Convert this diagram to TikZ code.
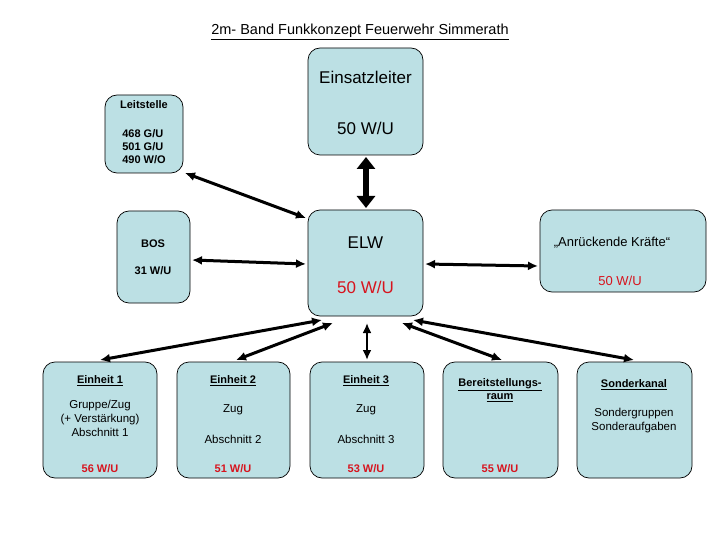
\documentclass[tikz,border=0pt]{standalone}
\usepackage{fontspec}
\setmainfont{Liberation Sans}
\usetikzlibrary{arrows.meta}
\definecolor{bx}{RGB}{188,224,228}
\definecolor{rd}{RGB}{215,20,30}
\begin{document}
\begin{tikzpicture}[x=1pt,y=-1pt,
 box/.style={draw=black,fill=bx,rounded corners=12pt,line width=0.7pt},
 ar/.style={line width=3pt,{Latex[length=10pt,width=9pt]}-{Latex[length=10pt,width=9pt]}},
 t/.style={font=\fontsize{13}{15}\selectfont,align=center,inner sep=0},
 s/.style={font=\fontsize{11.5}{14}\selectfont,align=center,inner sep=0},
 b/.style={font=\bfseries\fontsize{11}{13}\selectfont,align=center,inner sep=0}]
\useasboundingbox (0,0) rectangle (720,540);
\node[font=\fontsize{14.5}{16}\selectfont,inner sep=0] (title) at (360,32) {\underline{2m- Band Funkkonzept Feuerwehr Simmerath}};
\draw[box] (308,48) rectangle (423,155);
\node[font=\fontsize{17}{19}\selectfont,inner sep=0] (ezt) at (365.5,77) {Einsatzleiter};
\node[font=\fontsize{17}{19}\selectfont,inner sep=0] (ezn) at (365.5,128) {50 W/U};
\draw[box] (105,95) rectangle (183,173);
\node[b] (ls) at (144,105) {Leitstelle};
\node[b,align=left] (lsn) at (144,147) {468 G/U\\501 G/U\\490 W/O};
\draw[box] (117,211) rectangle (190,303);
\node[b] (bos) at (153,244) {BOS};
\node[b] (bosn) at (153,271) {31 W/U};
\draw[box] (308,210) rectangle (423,316);
\node[font=\fontsize{17}{19}\selectfont,inner sep=0] (elw) at (365.5,243) {ELW};
\node[font=\fontsize{17}{19}\selectfont,inner sep=0,text=rd] (elwn) at (365.5,287) {50 W/U};
\draw[box] (540,210) rectangle (706,292);
\node[t] (an) at (612,243) {„Anrückende Kräfte“};
\node[t,text=rd] (ann) at (620,281) {50 W/U};
\foreach \l/\r in {43/157,177/290,310/424,443/558,577/692}{\draw[box] (\l,362) rectangle (\r,478);}
\node[b] (e1) at (100,381) {\underline{Einheit 1}};
\node[s] (e1a) at (100,418) {Gruppe/Zug\\(+ Verstärkung)\\Abschnitt 1};
\node[b,text=rd] (e1n) at (100,469) {56 W/U};
\node[b] (e2) at (233,381) {\underline{Einheit 2}};
\node[s] (e2a) at (233,410) {Zug};
\node[s] (e2b) at (233,439) {Abschnitt 2};
\node[b,text=rd] (e2n) at (233,469) {51 W/U};
\node[b] (e3) at (366,381) {\underline{Einheit 3}};
\node[s] (e3a) at (366,410) {Zug};
\node[s] (e3b) at (366,439) {Abschnitt 3};
\node[b,text=rd] (e3n) at (366,469) {53 W/U};
\node[b] (br) at (500,390) {\underline{Bereitstellungs-}\\\underline{raum}};
\node[b,text=rd] (brn) at (500,469) {55 W/U};
\node[b] (sk) at (634,385) {\underline{Sonderkanal}};
\node[s] (ska) at (634,421) {Sondergruppen\\Sonderaufgaben};
\coordinate (ezB) at (366,157); \coordinate (elwT) at (366,208);
\coordinate (lsA) at (185,173); \coordinate (elwL1) at (306,218);
\coordinate (bosR) at (192,260); \coordinate (elwL2) at (306,264);
\coordinate (anL) at (538,266); \coordinate (elwR) at (425,264);
\coordinate (c1) at (322,320); \coordinate (c2) at (333,323); \coordinate (c3) at (367,323);
\coordinate (c4) at (402,323); \coordinate (c5) at (413,320);
\coordinate (t1) at (100,360); \coordinate (t2) at (236,360); \coordinate (t3) at (367,360);
\coordinate (t4) at (502,360); \coordinate (t5) at (634,360);
\draw[line width=6pt,{Triangle[length=12pt,width=18pt]}-{Triangle[length=12pt,width=18pt]}] (ezB) -- (elwT);
\draw[ar] (lsA) -- (elwL1);
\draw[ar] (bosR) -- (elwL2);
\draw[ar] (anL) -- (elwR);
\draw[ar] (c1) -- (t1); \draw[ar] (c2) -- (t2);
\draw[ar,line width=2pt] (c3) -- (t3);
\draw[ar] (c4) -- (t4); \draw[ar] (c5) -- (t5);
\end{tikzpicture}
\end{document}
